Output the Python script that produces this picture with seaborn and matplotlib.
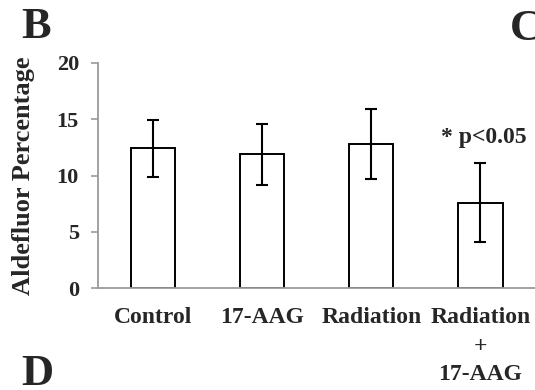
"""
plot.py - Aldefluor percentage by treatment group (panel B)
"""

import numpy as np
import pandas as pd
import matplotlib
matplotlib.use("Agg")
import matplotlib.pyplot as plt
import seaborn as sns

# ── data ─────────────────────────────────────────────────────────────────────
groups = ["Control", "17-AAG", "Radiation", "Radiation\n+\n17-AAG"]
means = [12.4, 11.9, 12.8, 7.6]
errors = [2.5, 2.7, 3.1, 3.5]
y_ticks = [0, 5, 10, 15, 20]
sig_text = "* p<0.05"

df = pd.DataFrame({"group": groups, "mean": means, "err": errors})

# ── style ────────────────────────────────────────────────────────────────────
sns.set_style("white")
plt.rcParams["font.family"] = ["Liberation Serif", "DejaVu Serif"]
plt.rcParams["font.weight"] = "bold"

SPINE = "#9a9a9a"

fig = plt.figure(figsize=(5.35, 3.9), dpi=100)
ax = fig.add_axes([0.184, 0.2615, 0.816, 0.577])

sns.barplot(data=df, x="group", y="mean", color="white", saturation=1,
            edgecolor="black", linewidth=1.4, width=0.405, errorbar=None, ax=ax)
ax.errorbar(np.arange(len(groups)), df["mean"], yerr=df["err"], fmt="none",
            ecolor="black", elinewidth=1.5, capsize=4.3, capthick=1.5)

ax.set_xlim(-0.5, 3.5)
ax.set_ylim(0, 20)
ax.set_yticks(y_ticks)
ax.set_yticklabels([str(t) for t in y_ticks], fontsize=16, fontweight="bold")
ax.set_xticks(range(len(groups)))
ax.set_xticklabels(groups, fontsize=17, fontweight="bold", linespacing=1.45)
ax.set_xticks(np.arange(-0.5, 4, 1), minor=True)
ax.tick_params(axis="x", which="major", length=0, pad=14)
ax.tick_params(axis="x", which="minor", length=5, width=1.2, color=SPINE,
               direction="out")
ax.tick_params(axis="y", length=5, width=1.2, color=SPINE, direction="out",
               left=True, pad=9)

for side in ["top", "right"]:
    ax.spines[side].set_visible(False)
for side in ["left", "bottom"]:
    ax.spines[side].set_color(SPINE)
    ax.spines[side].set_linewidth(1.3)

ax.set_xlabel("")
ax.set_ylabel("Aldefluor Percentage", fontsize=19, fontweight="bold")
ax.yaxis.set_label_coords(-0.145, 0.5)

ax.text(3.03, 13.4, sig_text, ha="center", va="center", fontsize=17,
        fontweight="bold")

# panel letters
fig.text(0.039, 0.9026, "B", fontsize=32, fontweight="bold", ha="left", va="baseline")
fig.text(0.953, 0.897, "C", fontsize=32, fontweight="bold", ha="left", va="baseline")
fig.text(0.039, 0.0128, "D", fontsize=32, fontweight="bold", ha="left", va="baseline")

fig.savefig("out.png", dpi=100)
